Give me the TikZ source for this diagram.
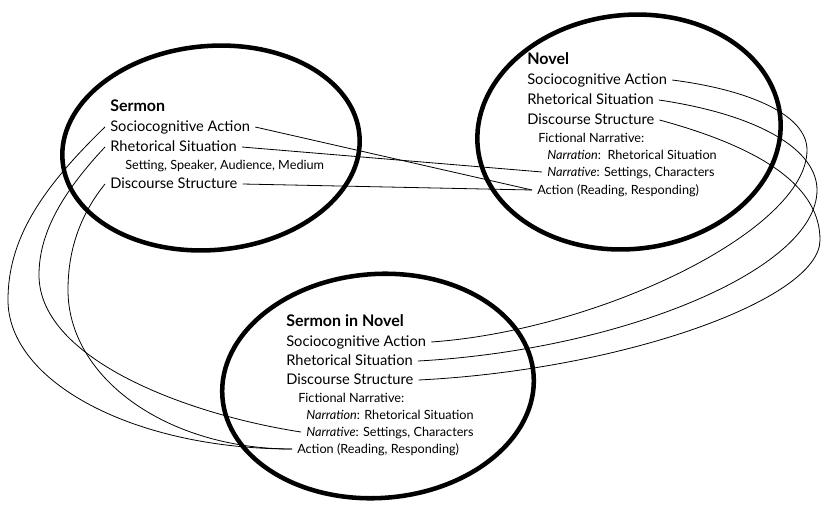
\documentclass[tikz,border=0pt]{standalone}
\usepackage{fontspec}
\setmainfont{Lato}
\usepackage{tikz}

\begin{document}
\begin{tikzpicture}[x=0.75pt,y=-0.75pt,
  ring/.style={line width=3.4pt},
  link/.style={line width=0.6pt},
  txt/.style={anchor=west,inner xsep=3.75pt,inner ysep=0pt,text height=1.6ex,text depth=.3ex},
  head/.style={txt,font=\fontsize{12}{14}\selectfont\bfseries},
  big/.style={txt,font=\fontsize{11}{13}\selectfont},
  small/.style={txt,font=\fontsize{9.5}{11}\selectfont}]
\useasboundingbox (0,0) rectangle (821,504);
\draw[ring,rotate around={5:(211,148)}] (211,148) ellipse [x radius=149,y radius=102];
\draw[ring,rotate around={6:(629,132)}] (629,132) ellipse [x radius=152,y radius=117];
\draw[ring,rotate around={4:(378,386)}] (378,386) ellipse [x radius=156,y radius=112];
\node[head] (sTitle) at (105,107) {Sermon};
\node[big] (sSoc) at (105,127) {Sociocognitive Action};
\node[big] (sRhet) at (105,147) {Rhetorical Situation};
\node[small] (sSet) at (120,165) {Setting, Speaker, Audience, Medium};
\node[big] (sDisc) at (105,184) {Discourse Structure};
\node[head] (nTitle) at (522,60) {Novel};
\node[big] (nSoc) at (522,80) {Sociocognitive Action};
\node[big] (nRhet) at (522,100) {Rhetorical Situation};
\node[big] (nDisc) at (522,120) {Discourse Structure};
\node[small] (nFic) at (533,138) {Fictional Narrative:};
\node[small] (nNarr) at (542,155) {\textit{Narration}:\ \ Rhetorical Situation};
\node[small] (nNarv) at (542,172) {\textit{Narrative}: Settings, Characters};
\node[small] (nAct) at (532,190) {Action (Reading, Responding)};
\node[head] (mTitle) at (281,322) {Sermon in Novel};
\node[big] (mSoc) at (281,342) {Sociocognitive Action};
\node[big] (mRhet) at (281,361) {Rhetorical Situation};
\node[big] (mDisc) at (281,380) {Discourse Structure};
\node[small] (mFic) at (293,398) {Fictional Narrative:};
\node[small] (mNarr) at (301,415) {\textit{Narration}: Rhetorical Situation};
\node[small] (mNarv) at (301,432) {\textit{Narrative}: Settings, Characters};
\node[small] (mAct) at (292,449) {Action (Reading, Responding)};
\draw[link] (sSoc.east) -- (nAct.west);
\draw[link] (sRhet.east) -- (nNarv.west);
\draw[link] (sDisc.east) -- (nAct.west);
\draw[link] (sSoc.west) .. controls (40,190) and (8,240) .. (8,300) .. controls (8,382) and (134,449) .. (mAct.west);
\draw[link] (sRhet.west) .. controls (60,195) and (39,235) .. (39,275) .. controls (39,360) and (190,415) .. (mNarv.west);
\draw[link] (sDisc.west) .. controls (80,215) and (68,250) .. (68,290) .. controls (68,378) and (167,449) .. (mAct.west);
\draw[link] (nSoc.east) .. controls (750,90) and (807,115) .. (807,150) .. controls (807,230) and (600,330) .. (mSoc.east);
\draw[link] (nRhet.east) .. controls (760,115) and (817,150) .. (817,190) .. controls (817,270) and (620,350) .. (mRhet.east);
\draw[link] (nDisc.east) .. controls (770,150) and (820,190) .. (820,240) .. controls (820,300) and (620,370) .. (mDisc.east);
\end{tikzpicture}
\end{document}
